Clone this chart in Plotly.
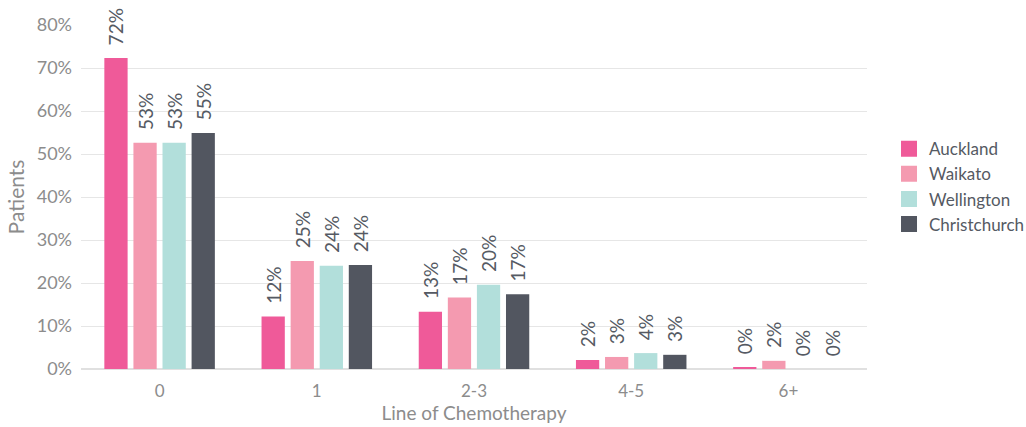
import plotly.graph_objects as go

categories = ["0", "1", "2-3", "4-5", "6+"]
auckland = [72.3, 12.2, 13.3, 2.1, 0.3]
waikato = [52.6, 25.1, 16.6, 2.8, 1.9]
wellington = [52.6, 24.0, 19.6, 3.7, 0.0]
christchurch = [54.9, 24.2, 17.4, 3.3, 0.0]

series = [
    ("Auckland", auckland, "#ef5a99"),
    ("Waikato", waikato, "#f49ab0"),
    ("Wellington", wellington, "#b2dfdb"),
    ("Christchurch", christchurch, "#525660"),
]

FONT = "Lato, Open Sans, sans-serif"

fig = go.Figure()
for name, vals, color in series:
    fig.add_trace(go.Bar(
        name=name,
        x=categories,
        y=vals,
        legendgroup=name,
        showlegend=False,
        marker=dict(color=color, line=dict(width=0)),
        texttemplate="\u00a0\u00a0%{y:.0f}%",
        textposition="outside",
        textangle=-90,
        constraintext="none",
        cliponaxis=False,
        textfont=dict(family=FONT, size=19, color="#555a63"),
        hovertemplate="%{x}: %{y:.0f}%<extra>" + name + "</extra>",
    ))

# Legend entries with larger square swatches
for name, vals, color in series:
    fig.add_trace(go.Scatter(
        name=name,
        x=[None],
        y=[None],
        mode="markers",
        legendgroup=name,
        marker=dict(symbol="square", size=16, color=color, line=dict(width=0)),
        hoverinfo="skip",
    ))

fig.update_layout(
    width=1026,
    height=427,
    margin=dict(l=81, r=159, t=25, b=58, autoexpand=False),
    paper_bgcolor="white",
    plot_bgcolor="white",
    barmode="group",
    bargap=0.26,
    bargroupgap=0.2,
    font=dict(family=FONT, color="#8c8c8c"),
    xaxis=dict(
        title=dict(text="Line of Chemotherapy", font=dict(size=19, color="#8c8c8c"), standoff=4),
        tickfont=dict(size=17, color="#8c8c8c"),
        ticklabelstandoff=10,
        showgrid=False,
        showline=False,
        ticks="",
    ),
    yaxis=dict(
        title=dict(text="Patients", font=dict(size=21, color="#8c8c8c"), standoff=6),
        range=[0, 80],
        dtick=10,
        ticksuffix="%",
        tickfont=dict(size=18, color="#8c8c8c"),
        ticklabelstandoff=8,
        gridcolor="#e6e6e6",
        gridwidth=1,
        zeroline=True,
        zerolinecolor="#e0e0e0",
        zerolinewidth=2,
        showline=False,
        ticks="",
    ),
    legend=dict(
        x=1.028, xanchor="left",
        y=0.53, yanchor="middle",
        font=dict(size=17, color="#555a63"),
        itemsizing="trace",
        itemwidth=30,
        tracegroupgap=0,
        bgcolor="rgba(0,0,0,0)",
    ),
    showlegend=True,
)

fig.write_html("out.html")
